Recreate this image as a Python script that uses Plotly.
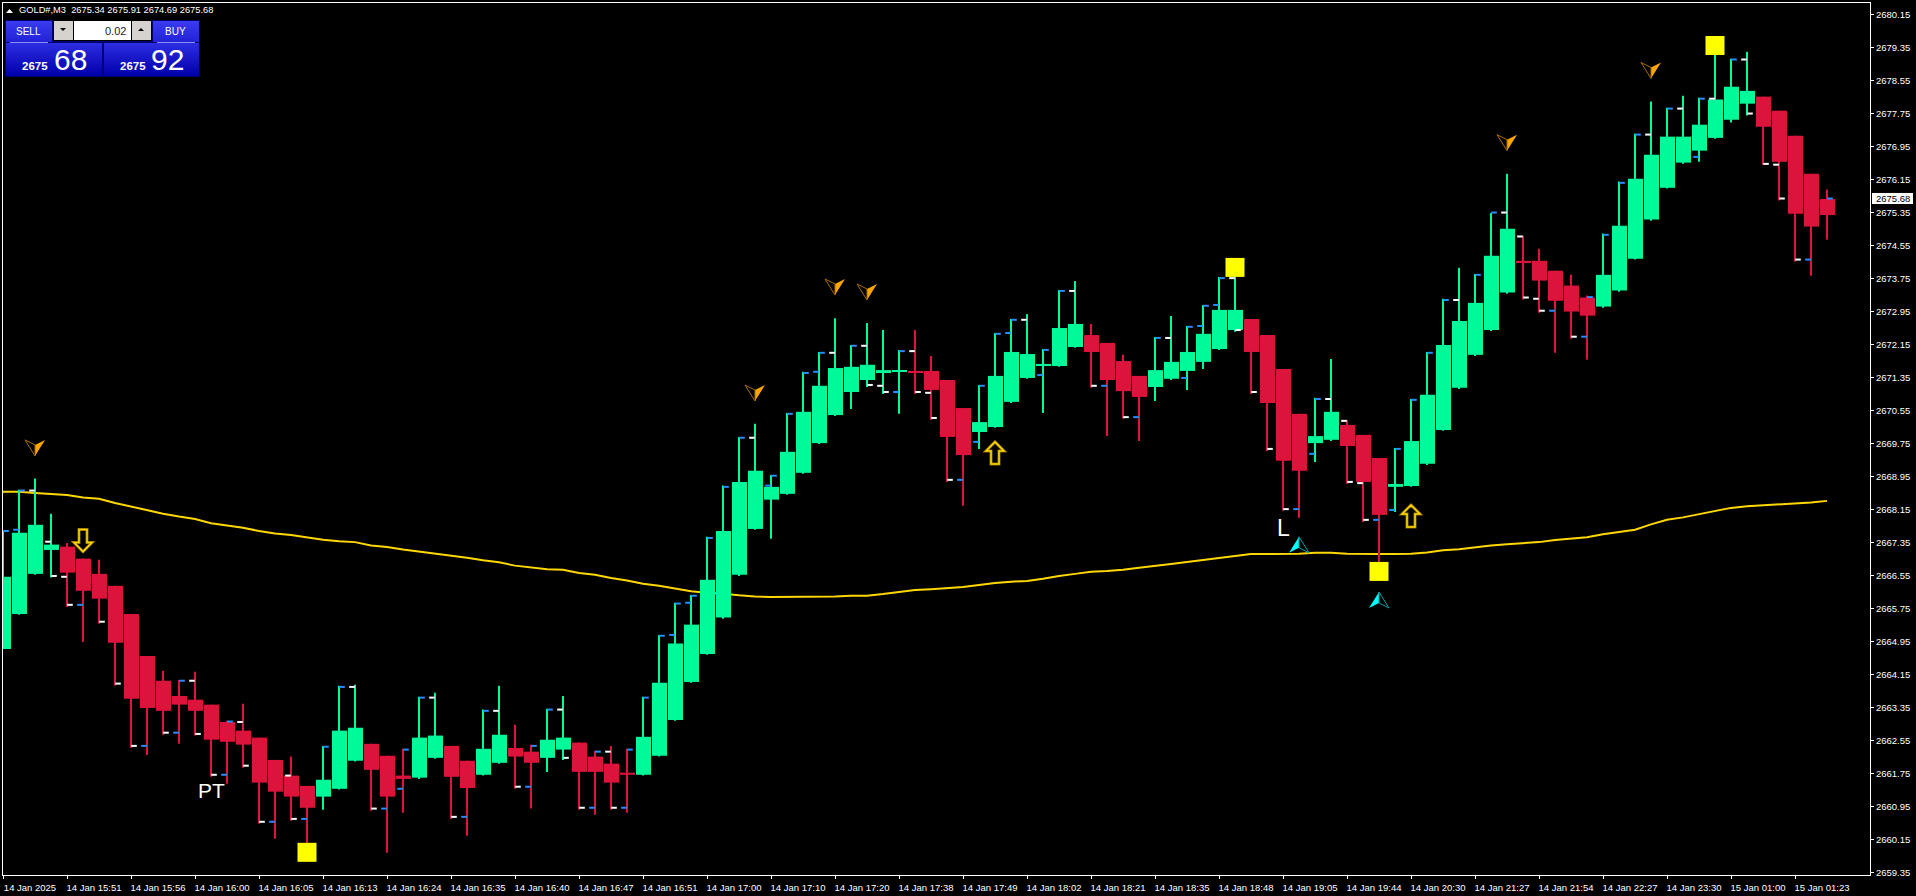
import plotly.graph_objects as go

opens = [2664.77,2665.62,2666.59,2667.17,2667.25,2666.96,2666.59,2666.30,2665.62,2664.60,
2664.00,2663.63,2663.54,2663.42,2663.00,2662.79,2662.62,2662.08,2661.70,2661.45,
2661.19,2661.38,2662.06,2662.47,2662.18,2661.70,2661.65,2662.13,2662.42,2662.06,
2661.72,2662.01,2662.37,2662.28,2662.13,2662.33,2662.50,2662.16,2661.99,2661.77,
2661.72,2662.18,2663.05,2663.97,2664.65,2665.53,2666.57,2667.68,2668.39,2668.53,
2669.04,2669.76,2670.44,2671.00,2671.29,2671.46,2671.49,2671.51,2671.51,2671.29,
2670.61,2670.03,2670.15,2670.76,2671.34,2671.63,2671.63,2672.09,2672.38,2672.19,
2671.75,2671.39,2671.12,2671.32,2671.51,2671.73,2672.04,2672.50,2672.77,2672.38,
2671.56,2670.47,2669.76,2669.84,2670.20,2669.96,2669.40,2668.70,2668.72,2669.26,
2670.08,2671.10,2671.90,2672.50,2673.41,2674.18,2674.18,2673.94,2673.58,2673.29,
2673.07,2673.46,2674.23,2675.18,2675.95,2676.56,2676.85,2677.16,2677.60,2677.99,
2678.16,2677.82,2677.21,2676.29,2675.68]
highs = [2667.63,2668.63,2668.90,2668.05,2667.34,2666.96,2666.93,2666.30,2665.62,2664.60,
2664.24,2664.02,2664.22,2663.42,2663.03,2663.44,2662.62,2662.08,2662.16,2661.45,
2662.42,2663.88,2663.90,2662.47,2662.18,2662.35,2663.61,2663.71,2662.42,2662.06,
2663.30,2663.88,2662.93,2662.45,2663.32,2663.63,2662.50,2662.30,2662.42,2662.35,
2663.61,2665.11,2665.89,2666.08,2667.49,2668.73,2669.91,2670.23,2668.99,2670.49,
2671.49,2671.97,2672.79,2672.14,2672.67,2672.50,2672.02,2672.50,2671.87,2671.29,
2670.61,2671.17,2672.43,2672.77,2672.89,2672.04,2673.47,2673.69,2672.65,2672.19,
2671.90,2671.39,2672.33,2672.84,2672.60,2673.11,2673.79,2673.81,2672.77,2672.38,
2671.56,2670.47,2670.86,2671.80,2670.32,2669.96,2669.40,2669.64,2670.83,2671.97,
2673.26,2674.01,2673.86,2675.34,2676.29,2674.79,2674.47,2673.94,2673.84,2673.34,
2674.84,2676.10,2677.26,2678.04,2677.89,2678.18,2678.13,2679.20,2679.08,2679.25,
2678.16,2677.82,2677.21,2676.29,2675.91]
lows = [2664.77,2665.60,2666.57,2666.50,2665.79,2664.94,2665.38,2663.88,2662.37,2662.20,
2662.69,2662.47,2662.67,2661.67,2661.50,2661.89,2660.53,2660.17,2660.60,2660.05,
2660.87,2661.36,2662.04,2660.85,2659.83,2660.80,2661.62,2662.11,2660.65,2660.24,
2661.70,2661.99,2661.38,2660.90,2661.79,2662.08,2660.87,2660.75,2660.87,2660.80,
2661.70,2662.16,2663.03,2663.95,2664.63,2665.50,2666.54,2667.66,2667.44,2668.51,
2669.02,2669.74,2670.42,2670.59,2671.12,2670.95,2670.47,2670.95,2670.32,2668.82,
2668.24,2669.62,2670.13,2670.73,2671.32,2670.49,2671.61,2672.07,2671.10,2669.93,
2670.35,2669.81,2670.78,2671.29,2671.05,2671.56,2672.02,2672.46,2670.95,2669.57,
2668.12,2667.95,2669.30,2669.81,2668.77,2667.85,2666.88,2668.09,2668.70,2669.23,
2670.06,2671.07,2671.87,2672.48,2673.38,2673.24,2672.92,2671.95,2672.29,2671.78,
2673.04,2673.43,2674.21,2675.15,2675.93,2676.53,2676.58,2677.14,2677.53,2677.70,
2676.51,2675.64,2674.16,2673.82,2674.69]
closes = [2666.52,2667.59,2667.78,2667.30,2666.62,2666.18,2665.99,2664.92,2663.56,2663.34,
2663.27,2663.42,2663.27,2662.57,2662.52,2662.45,2661.53,2661.31,2661.19,2660.92,
2661.60,2662.79,2662.86,2661.84,2661.19,2661.62,2662.62,2662.67,2661.67,2661.40,
2662.35,2662.69,2662.16,2662.01,2662.57,2662.62,2661.79,2661.79,2661.53,2661.72,
2662.64,2663.95,2664.90,2665.36,2666.45,2667.63,2668.82,2669.09,2668.70,2669.55,
2670.52,2671.15,2671.58,2671.61,2671.66,2671.53,2671.53,2671.48,2671.05,2669.91,
2669.47,2670.27,2671.39,2671.97,2671.92,2671.68,2672.55,2672.65,2671.97,2671.29,
2671.02,2670.88,2671.53,2671.73,2671.97,2672.41,2672.99,2672.99,2671.97,2670.73,
2669.33,2669.09,2669.93,2670.52,2669.69,2668.82,2668.02,2668.77,2669.81,2670.93,
2672.14,2672.72,2673.16,2674.30,2674.96,2674.15,2673.70,2673.21,2672.95,2672.85,
2673.84,2675.03,2676.17,2676.75,2677.19,2677.19,2677.48,2678.09,2678.40,2678.30,
2677.43,2676.58,2675.32,2675.01,2675.29]
ma_values = [2668.58,2668.58,2668.55,2668.53,2668.50,2668.44,2668.41,2668.31,2668.22,2668.13,
2668.05,2667.98,2667.92,2667.82,2667.77,2667.71,2667.63,2667.57,2667.53,2667.47,
2667.42,2667.38,2667.36,2667.28,2667.24,2667.18,2667.13,2667.09,2667.04,2666.98,
2666.92,2666.87,2666.79,2666.75,2666.70,2666.69,2666.61,2666.57,2666.49,2666.43,
2666.35,2666.30,2666.24,2666.17,2666.13,2666.11,2666.07,2666.04,2666.03,2666.03,
2666.03,2666.03,2666.04,2666.06,2666.06,2666.10,2666.15,2666.20,2666.22,2666.24,
2666.27,2666.32,2666.37,2666.40,2666.42,2666.47,2666.54,2666.59,2666.64,2666.66,
2666.69,2666.74,2666.78,2666.83,2666.88,2666.93,2666.97,2667.02,2667.07,2667.07,
2667.07,2667.08,2667.10,2667.10,2667.08,2667.07,2667.07,2667.07,2667.08,2667.11,
2667.16,2667.19,2667.24,2667.28,2667.31,2667.34,2667.36,2667.41,2667.45,2667.48,
2667.55,2667.61,2667.66,2667.79,2667.90,2667.96,2668.04,2668.11,2668.19,2668.23,
2668.25,2668.28,2668.30,2668.32,2668.36]

blue_right_idx = [0,1,11,14,20,21,25,26,30,33,34,37,39,40,41,42,43,44,45,46,48,49,50,51,53,56,61,62,63,65,66,72,74,75,76,82,87,88,89,90,92,93,99,100,101,102,104,106,108,114]
blue_right_px = [2667.63,2668.61,2664.00,2663.01,2662.40,2663.85,2662.33,2663.59,2663.27,2662.42,2663.30,2662.28,2662.33,2663.59,2665.09,2665.87,2666.06,2667.46,2668.70,2669.89,2668.97,2670.47,2671.46,2671.95,2672.12,2671.99,2671.15,2672.41,2672.75,2672.02,2673.45,2672.31,2672.58,2673.09,2673.76,2670.83,2669.62,2670.81,2671.95,2673.23,2673.84,2675.35,2673.30,2674.81,2676.07,2677.24,2677.87,2678.11,2679.06,2675.69]
blue_left_idx = [1,5,9,11,14,17,19,24,25,29,33,37,39,42,43,48,51,56,60,61,63,65,69,71,74,75,76,81,82,86,87,97,99,106,113]
blue_left_px = [2667.66,2665.84,2662.42,2662.74,2661.72,2660.58,2660.65,2660.90,2661.38,2660.70,2661.43,2660.92,2660.92,2665.11,2665.89,2668.73,2671.49,2671.00,2668.87,2669.79,2672.43,2671.41,2671.15,2670.39,2671.34,2672.60,2673.11,2668.16,2669.50,2667.90,2668.14,2672.97,2672.34,2676.70,2674.21]
white_right_idx = [3,4,6,7,8,10,12,13,15,16,18,23,28,32,35,36,38,54,55,57,58,59,68,70,77,78,79,80,84,85,95,96,98,109,110,111,112]
white_right_px = [2666.54,2665.84,2665.43,2663.93,2662.42,2662.74,2662.71,2661.72,2661.94,2660.58,2660.65,2660.90,2660.70,2661.43,2662.13,2660.92,2660.92,2671.17,2671.00,2671.00,2670.37,2668.87,2671.15,2670.39,2672.50,2671.00,2669.62,2668.16,2668.82,2667.90,2673.29,2672.97,2672.34,2677.75,2676.53,2675.69,2674.21]
white_left_idx = [2,3,4,12,15,18,22,27,31,35,38,47,52,54,55,57,58,64,67,73,77,83,84,85,91,94,95,96,103,105,107,109,111]
white_left_px = [2668.61,2667.37,2666.52,2664.00,2663.00,2661.70,2663.85,2663.59,2663.27,2663.30,2662.28,2669.89,2671.95,2672.12,2671.15,2671.99,2670.98,2672.75,2673.45,2672.31,2673.76,2670.83,2670.30,2668.79,2673.23,2675.35,2674.77,2673.26,2677.24,2677.87,2678.11,2679.06,2676.51]

square_idx = [19, 77, 86, 107]
square_px = [2659.84, 2674.02, 2666.65, 2679.40]
orange_idx = [2, 47, 52, 54, 94, 103]
orange_px = [2669.45, 2670.78, 2673.35, 2673.23, 2676.85, 2678.60]
cyan_idx = [81, 86]
cyan_px = [2667.49, 2666.15]
hollow_down_idx = [5]
hollow_down_px = [2667.13]
hollow_up_idx = [62, 88]
hollow_up_px = [2669.79, 2668.26]

x_labels = ["14 Jan 2025","14 Jan 15:51","14 Jan 15:56","14 Jan 16:00","14 Jan 16:05","14 Jan 16:13","14 Jan 16:24","14 Jan 16:35",
"14 Jan 16:40","14 Jan 16:47","14 Jan 16:51","14 Jan 17:00","14 Jan 17:10","14 Jan 17:20","14 Jan 17:38","14 Jan 17:49",
"14 Jan 18:02","14 Jan 18:21","14 Jan 18:35","14 Jan 18:48","14 Jan 19:05","14 Jan 19:44","14 Jan 20:30","14 Jan 21:27",
"14 Jan 21:54","14 Jan 22:27","14 Jan 23:30","15 Jan 01:00","15 Jan 01:23"]
y_ticks = [2659.35,2660.15,2660.95,2661.75,2662.55,2663.35,2664.15,2664.95,2665.75,2666.55,2667.35,2668.15,2668.95,2669.75,
2670.55,2671.35,2672.15,2672.95,2673.75,2674.55,2675.35,2676.15,2676.95,2677.75,2678.55,2679.35,2680.15]

W, H = 1916, 896
L, T, R, B = 3, 3, 1870, 875
FONT = "Liberation Sans"
BULL, BEAR = "#00FA9A", "#DC143C"
Y_RANGE = [2659.29, 2680.43]
X_RANGE = [0, (R - L) / 16]

def pxx(x): return (x - L) / (R - L)
def pxy(y): return 1 - (y - T) / (B - T)

fig = go.Figure()

# the moving average sits on the base axes so the candles cover it
fig.add_trace(go.Scatter(x=list(range(len(ma_values))), y=ma_values, mode="lines",
                         line=dict(color="#FFD700", width=2), hoverinfo="skip", showlegend=False))

n = len(opens)
for up, col in ((True, BULL), (False, BEAR)):
    ids = [i for i in range(n) if (closes[i] >= opens[i]) == up]
    fig.add_trace(go.Bar(x=ids, y=[highs[i] - lows[i] for i in ids], base=[lows[i] for i in ids],
                         width=2 / 16, offset=-1 / 16, marker=dict(color=col, line=dict(width=0)),
                         xaxis="x2", yaxis="y2", hoverinfo="skip", showlegend=False))
for up, col in ((True, BULL), (False, BEAR)):
    ids = [i for i in range(n) if (closes[i] >= opens[i]) == up]
    fig.add_trace(go.Bar(x=ids, y=[abs(closes[i] - opens[i]) for i in ids],
                         base=[min(opens[i], closes[i]) for i in ids],
                         width=15 / 16, offset=-7 / 16, marker=dict(color=col, line=dict(width=0)),
                         xaxis="x2", yaxis="y2", hoverinfo="skip", showlegend=False))

for ids, vals, col, shift in ((blue_right_idx, blue_right_px, "#1E90FF", 3 / 16),
                              (blue_left_idx, blue_left_px, "#1E90FF", -3 / 16),
                              (white_right_idx, white_right_px, "#FFFFFF", 3 / 16),
                              (white_left_idx, white_left_px, "#FFFFFF", -3 / 16)):
    fig.add_trace(go.Scatter(x=[i + shift for i in ids], y=vals, mode="markers",
                             marker=dict(symbol="line-ew", size=4, line=dict(color=col, width=2)),
                             xaxis="x2", yaxis="y2", hoverinfo="skip", showlegend=False))

fig.add_trace(go.Scatter(x=square_idx, y=square_px, mode="markers",
                         marker=dict(symbol="square", size=19, color="#FFFF00", line=dict(width=0)),
                         xaxis="x2", yaxis="y2", hoverinfo="skip", showlegend=False))

shapes = []
def glyph(i, p, path, fill="rgba(0,0,0,0)", line="rgba(0,0,0,0)", lw=0):
    shapes.append(dict(type="path", xref="x2", yref="y2", xsizemode="pixel", ysizemode="pixel",
                       xanchor=i, yanchor=p, path=path, fillcolor=fill,
                       line=dict(color=line, width=lw), layer="above"))

for i, p in zip(orange_idx, orange_px):
    glyph(i, p, "M 0 0 L 10 16 L 0 11 Z", fill="#FFA500")
    glyph(i, p, "M 0 0 L -10 16 L 0 11 Z", line="#A86C00", lw=1)
for i, p in zip(cyan_idx, cyan_px):
    glyph(i, p, "M 0 0 L -10 -16 L 0 -11 Z", fill="#00FFFF")
    glyph(i, p, "M 0 0 L 10 -16 L 0 -11 Z", line="#00A0A0", lw=1)
UP = "M 0 0 L 9 -9 L 4 -9 L 4 -22 L -4 -22 L -4 -9 L -9 -9 Z"
DN = "M 0 0 L 9 9 L 4 9 L 4 22 L -4 22 L -4 9 L -9 9 Z"
for ids, vals, path in ((hollow_up_idx, hollow_up_px, UP), (hollow_down_idx, hollow_down_px, DN)):
    for i, p in zip(ids, vals):
        glyph(i, p, path, line="#8A6A00", lw=3)
        glyph(i, p, path, line="#FFD700", lw=1.5)

def rect(x0, y0, x1, y1, col):
    shapes.append(dict(type="rect", xref="paper", yref="paper", x0=pxx(x0), x1=pxx(x1),
                       y0=pxy(y0), y1=pxy(y1), fillcolor=col, line=dict(width=0), layer="above"))

def tri(points, col):
    d = "M " + " L ".join(f"{pxx(a):.5f} {pxy(b):.5f}" for a, b in points) + " Z"
    shapes.append(dict(type="path", xref="paper", yref="paper", path=d, fillcolor=col,
                       line=dict(width=0), layer="above"))

def gradient(x0, y0, x1, y1, top, bot):
    steps = int(y1 - y0)
    for k in range(steps):
        t = k / max(steps - 1, 1)
        c = tuple(round(a + (b - a) * t) for a, b in zip(top, bot))
        rect(x0, y0 + k, x1, y0 + k + 1, f"rgb{c}")

# trade panel
rect(5, 20, 200, 77, "#00006E")
gradient(6, 21, 52, 42, (58, 58, 240), (34, 34, 214))
gradient(153, 21, 199, 42, (58, 58, 240), (34, 34, 214))
rect(10, 42, 48, 43, "#8C8CF0")
rect(157, 42, 195, 43, "#8C8CF0")
gradient(6, 43, 102, 76, (44, 44, 226), (0, 0, 170))
gradient(104, 43, 199, 76, (44, 44, 226), (0, 0, 170))
rect(53, 20, 152, 41, "#000000")
rect(54, 21, 73, 40, "#D6D3CE")
rect(74, 21, 131, 40, "#FFFFFF")
rect(132, 21, 151, 40, "#D6D3CE")
tri([(60, 28), (66, 28), (63, 31)], "#000000")
tri([(138, 31), (144, 31), (141, 28)], "#000000")
tri([(6, 13), (13, 13), (9.5, 9)], "#FFFFFF")
# last price tag
rect(1872, 193, 1913, 204, "#FFFFFF")

def note(x, y, text, size, color="#FFFFFF", anchor="left"):
    return dict(xref="paper", yref="paper", x=pxx(x), y=pxy(y), text=text, showarrow=False,
                xanchor=anchor, yanchor="middle", font=dict(family=FONT, size=size, color=color))

annotations = [
    note(17, 10.5, "GOLD#,M3  2675.34 2675.91 2674.69 2675.68", 9.3),
    note(28, 31, "SELL", 10, anchor="center"),
    note(175, 31, "BUY", 10, anchor="center"),
    note(128, 30.5, "0.02", 11, color="#222222", anchor="right"),
    note(20, 66, "<b>2675</b>", 11.5),
    note(52, 59, "68", 30),
    note(118, 66, "<b>2675</b>", 11.5),
    note(149, 59, "92", 30),
    note(1893, 198.7, "2675.68", 9.5, color="#000000", anchor="center"),
    dict(xref="x2", yref="y2", x=13, y=2661.35, text="PT", showarrow=False,
         font=dict(family=FONT, size=21, color="#FFFFFF")),
    dict(xref="x2", yref="y2", x=80, y=2667.71, text="L", showarrow=False,
         font=dict(family=FONT, size=23, color="#FFFFFF")),
]

fig.update_layout(
    width=W, height=H, autosize=False, barmode="overlay", showlegend=False,
    paper_bgcolor="#000000", plot_bgcolor="#000000",
    margin=dict(l=L, r=W - R, t=T, b=H - B, pad=0),
    shapes=shapes, annotations=annotations,
    xaxis=dict(range=X_RANGE, fixedrange=True, showgrid=False, zeroline=False,
               showline=True, linecolor="#FFFFFF", linewidth=1, mirror=True,
               tickmode="array", tickvals=[k * 4 for k in range(len(x_labels))], ticktext=x_labels,
               ticks="outside", ticklen=3, tickwidth=1, tickcolor="#FFFFFF", tickangle=0,
               ticklabelshift=27, ticklabelstandoff=1,
               tickfont=dict(family=FONT, size=9.5, color="#FFFFFF")),
    yaxis=dict(range=Y_RANGE, fixedrange=True, side="right", showgrid=False, zeroline=False,
               showline=True, linecolor="#FFFFFF", linewidth=1, mirror=True,
               tickmode="array", tickvals=y_ticks, ticktext=[f"{v:.2f}" for v in y_ticks],
               ticks="outside", ticklen=3, tickwidth=1, tickcolor="#FFFFFF",
               tickfont=dict(family=FONT, size=9.5, color="#FFFFFF")),
    xaxis2=dict(range=X_RANGE, overlaying="x", visible=False, fixedrange=True),
    yaxis2=dict(range=Y_RANGE, overlaying="y", visible=False, fixedrange=True),
)

fig.write_html("out.html", config=dict(displayModeBar=False),
               post_script="document.body.style.margin='0';document.body.style.background='#000';document.documentElement.style.overflow='hidden';")
